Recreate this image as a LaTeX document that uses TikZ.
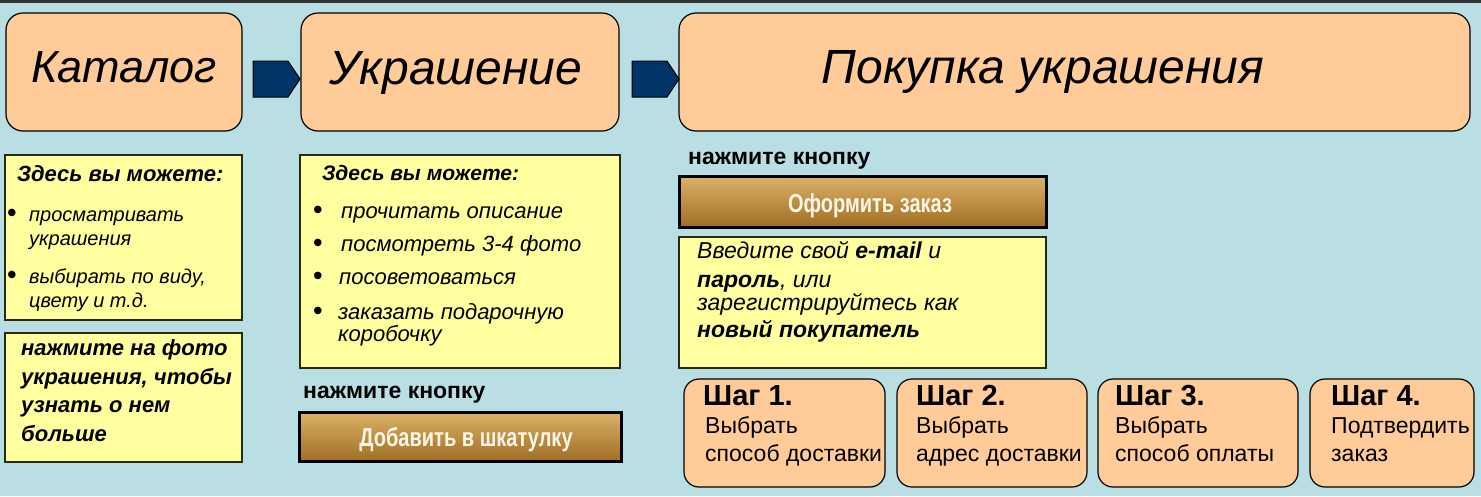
\documentclass[tikz,border=0pt]{standalone}
\usepackage{fontspec}
\setmainfont{Liberation Sans}
\newfontfamily\narrowfont[FakeStretch=0.77]{Liberation Sans}
\definecolor{bgblue}{RGB}{185,222,227}
\definecolor{peach}{RGB}{255,204,153}
\definecolor{paleyellow}{RGB}{255,255,160}
\definecolor{navy}{RGB}{0,51,102}
\definecolor{btntop}{RGB}{218,178,104}
\definecolor{btnbot}{RGB}{160,110,35}
\definecolor{btntext}{RGB}{252,246,232}
\definecolor{edge}{RGB}{40,40,20}
\begin{document}
\begin{tikzpicture}[x=1pt,y=-1pt,
  orangebox/.style={draw=black,line width=1.2pt,fill=peach,rounded corners=17pt,inner sep=0pt,outer sep=0pt},
  stepbox/.style={draw=black,line width=1.2pt,fill=peach,rounded corners=15pt,inner sep=0pt,outer sep=0pt},
  yellowbox/.style={draw=edge,line width=1.6pt,fill=paleyellow,inner sep=0pt,outer sep=0pt},
  btnbox/.style={draw=black,line width=3pt,top color=btntop,bottom color=btnbot,inner sep=0pt,outer sep=0pt},
  blockarrow/.style={draw=black,line width=1pt,fill=navy},
  lbl/.style={inner sep=0pt,anchor=base west},
  title/.style={inner sep=0pt,anchor=base,font=\fontsize{48}{56}\selectfont\itshape},
  head/.style={lbl,font=\fontsize{22}{26}\selectfont\bfseries\itshape},
  item/.style={lbl,font=\fontsize{20}{24}\selectfont\itshape},
  mitem/.style={lbl,font=\fontsize{22}{26}\selectfont\itshape},
  bitem/.style={lbl,font=\fontsize{22}{26}\selectfont\bfseries\itshape},
  bul/.style={inner sep=0pt,anchor=base,font=\fontsize{26}{30}\selectfont\bfseries},
  press/.style={lbl,font=\fontsize{23}{27}\selectfont\bfseries},
  btntxt/.style={inner sep=0pt,anchor=base,text=btntext,font=\fontsize{26}{30}\selectfont\narrowfont\bfseries},
  steph/.style={lbl,font=\fontsize{29}{34}\selectfont\bfseries},
  stepb/.style={lbl,font=\fontsize{23}{27}\selectfont}
]
\useasboundingbox (0,0) rectangle (1481,496);
\fill[bgblue] (0,0) rectangle (1481,496);
\fill[black!80] (0,0) rectangle (1481,3);

% top row
\node[orangebox,minimum width=236pt,minimum height=118pt] (cat) at (124,72) {};
\node[orangebox,minimum width=318pt,minimum height=118pt] (ukr) at (460,72) {};
\node[orangebox,minimum width=791pt,minimum height=118pt] (buy) at (1074.5,72) {};
\node[title,font=\fontsize{45}{54}\selectfont\itshape] (tcat) at (124,82) {Каталог};
\node[title] (tukr) at (456,84) {Украшение};
\node[title] (tbuy) at (1043,83) {Покупка украшения};

\coordinate (a1s) at (253,61);
\coordinate (a2s) at (632,61);
\draw[blockarrow] (a1s) -- ++(35,0) -- ++(12,18) -- ++(-12,18) -- ++(-35,0) -- cycle;
\draw[blockarrow] (a2s) -- ++(35,0) -- ++(12,18) -- ++(-12,18) -- ++(-35,0) -- cycle;

% left column
\node[yellowbox,minimum width=237pt,minimum height=165pt] (l1) at (123.5,237.5) {};
\node[head] (l1h) at (17,181) {Здесь вы можете:};
\node[bul] (l1b1) at (12,221) {•};
\node[item] (l1t1) at (29,221) {просматривать};
\node[item] (l1t2) at (29,245) {украшения};
\node[bul] (l1b2) at (12,283) {•};
\node[item] (l1t3) at (29,283) {выбирать по виду,};
\node[item] (l1t4) at (29,307) {цвету и т.д.};

\node[yellowbox,minimum width=237pt,minimum height=129pt] (l2) at (123.5,397.5) {};
\node[bitem] (l2t1) at (21,355) {нажмите на фото};
\node[bitem] (l2t2) at (21,384) {украшения, чтобы};
\node[bitem] (l2t3) at (21,412) {узнать о нем};
\node[bitem] (l2t4) at (21,441) {больше};

% middle column
\node[yellowbox,minimum width=320pt,minimum height=213pt] (m1) at (460,261.5) {};
\node[head,font=\fontsize{21}{25}\selectfont\bfseries\itshape] (m1h) at (322,180) {Здесь вы можете:};
\node[bul] (m1b1) at (318,218) {•};
\node[mitem] (m1t1) at (341,218) {прочитать описание};
\node[bul] (m1b2) at (318,251) {•};
\node[mitem] (m1t2) at (341,251) {посмотреть 3-4 фото};
\node[bul] (m1b3) at (318,284) {•};
\node[mitem] (m1t3) at (339,284) {посоветоваться};
\node[bul] (m1b4) at (318,319) {•};
\node[mitem] (m1t4) at (338,319) {заказать подарочную};
\node[mitem] (m1t5) at (338,341) {коробочку};
\node[press] (mpress) at (303,398) {нажмите кнопку};
\node[btnbox,minimum width=322pt,minimum height=49pt] (mbtn) at (460,436.5) {};
\node[btntxt] (mbtnt) at (466,446) {Добавить в шкатулку};

% right column
\node[press] (rpress) at (688,164) {нажмите кнопку};
\node[btnbox,minimum width=367pt,minimum height=51pt] (rbtn) at (862.5,201.5) {};
\node[btntxt] (rbtnt) at (870,212) {Оформить заказ};
\node[yellowbox,minimum width=367pt,minimum height=131pt] (r1) at (862.5,302.5) {};
\node[mitem,font=\fontsize{23}{27}\selectfont\itshape] (r1t1) at (697,258) {Введите свой \textbf{e-mail} и};
\node[mitem,font=\fontsize{23}{27}\selectfont\itshape] (r1t2) at (697,287) {\textbf{пароль}, или};
\node[mitem,font=\fontsize{23}{27}\selectfont\itshape] (r1t3) at (697,310) {зарегистрируйтесь как};
\node[bitem,font=\fontsize{23}{27}\selectfont\bfseries\itshape] (r1t4) at (697,337) {новый покупатель};

% steps
\node[stepbox,minimum width=201pt,minimum height=108pt] (s1) at (784.5,433) {};
\node[stepbox,minimum width=190pt,minimum height=108pt] (s2) at (992,433) {};
\node[stepbox,minimum width=200pt,minimum height=108pt] (s3) at (1198,433) {};
\node[stepbox,minimum width=164pt,minimum height=108pt] (s4) at (1392,433) {};
\node[steph] (s1h) at (703,405) {Шаг 1.};
\node[stepb] (s1a) at (705,433) {Выбрать};
\node[stepb] (s1b) at (705,461) {способ доставки};
\node[steph] (s2h) at (916,405) {Шаг 2.};
\node[stepb] (s2a) at (916,433) {Выбрать};
\node[stepb] (s2b) at (916,461) {адрес доставки};
\node[steph] (s3h) at (1115,405) {Шаг 3.};
\node[stepb] (s3a) at (1115,433) {Выбрать};
\node[stepb] (s3b) at (1115,461) {способ оплаты};
\node[steph] (s4h) at (1331,405) {Шаг 4.};
\node[stepb] (s4a) at (1331,433) {Подтвердить};
\node[stepb] (s4b) at (1331,461) {заказ};
\end{tikzpicture}
\end{document}
